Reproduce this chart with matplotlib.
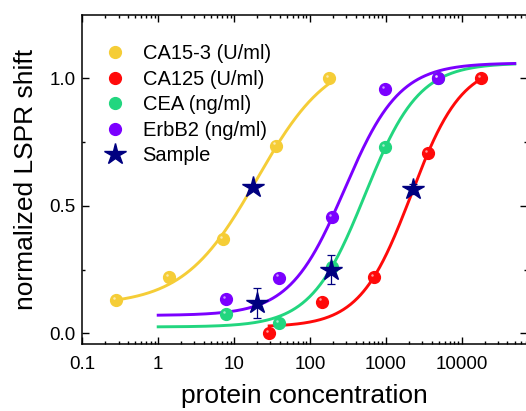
import numpy as np
import matplotlib
matplotlib.use("Agg")
import matplotlib.pyplot as plt
from matplotlib.lines import Line2D
from matplotlib.ticker import LogLocator, AutoMinorLocator, FixedLocator, FixedFormatter, NullFormatter
from matplotlib.transforms import offset_copy

plt.rcParams["font.family"] = ["Liberation Sans", "DejaVu Sans"]

# calibration points per marker
ca153_x = [0.28, 1.4, 7.1, 35.7, 177]
ca153_y = [0.13, 0.22, 0.37, 0.736, 1.0]
ca125_x = [29, 143, 708, 3614, 18000]
ca125_y = [0.0, 0.124, 0.22, 0.706, 1.0]
cea_x = [7.8, 39.5, 194, 980, 4940]
cea_y = [0.076, 0.04, 0.26, 0.73, 1.0]
erbb2_x = [7.8, 39.5, 198, 980, 4940]
erbb2_y = [0.135, 0.218, 0.457, 0.957, 1.0]

# sample readings with error bars
sample_x = [17.9, 20.2, 190, 2270]
sample_y = [0.572, 0.118, 0.25, 0.566]
sample_err = [0.01, 0.058, 0.057, 0.02]

# logistic fits: bottom, top, x0, hill, fit range
ca153_fit = [0.11, 1.10, 20.0, 0.90, 0.28, 177]
ca125_fit = [0.025, 1.06, 2150, 1.29, 29, 18000]
cea_fit = [0.025, 1.06, 530, 1.22, 1, 50000]
erbb2_fit = [0.07, 1.06, 286, 1.20, 1, 50000]

labels = ["CA15-3 (U/ml)", "CA125 (U/ml)", "CEA (ng/ml)", "ErbB2 (ng/ml)"]
colors = ["#F5CD37", "#FF0A0A", "#22D67F", "#7B00FF"]
star_color = "#000080"


def logistic(x, bottom, top, x0, p):
    return top + (bottom - top) / (1 + (x / x0) ** p)


fig = plt.figure(figsize=(5.26, 4.11), dpi=100)
ax = fig.add_axes([0.1565, 0.1623, 0.845, 0.8012])

series = [(ca153_x, ca153_y, ca153_fit), (ca125_x, ca125_y, ca125_fit),
          (cea_x, cea_y, cea_fit), (erbb2_x, erbb2_y, erbb2_fit)]

# small white glint up and left of each ball
hl = offset_copy(ax.transData, fig=fig, x=-1.6, y=1.6, units="points")
handles = []
for (xs, ys, fit), col in zip(series, colors):
    b, t, x0, p, lo, hi = fit
    xx = np.logspace(np.log10(lo), np.log10(hi), 300)
    ax.plot(xx, logistic(xx, b, t, x0, p), color=col, lw=2.1, zorder=2)
    ax.plot(xs, ys, "o", ms=8.5, color=col, mec=col, zorder=3)
    ax.plot(xs, ys, "o", ms=1.8, color="white", mec="none", alpha=0.6,
            transform=hl, zorder=4)
    handles.append(Line2D([], [], ls="none", marker="o", ms=8.5, color=col))

ax.errorbar(sample_x, sample_y, yerr=sample_err, fmt="none", ecolor=star_color,
            elinewidth=0.9, capsize=3, capthick=0.9, zorder=5)
ax.plot(sample_x, sample_y, "*", ms=16, color=star_color, mec=star_color, zorder=6)
handles.append(Line2D([], [], ls="none", marker="*", ms=16, color=star_color))

ax.legend(handles, labels + ["Sample"],
          loc="upper left", bbox_to_anchor=(0.02, 0.935), frameon=False,
          fontsize=14.5, handlelength=1.6, handletextpad=0.55, labelspacing=0.32,
          borderaxespad=0)

ax.set_xscale("log")
ax.set_xlim(0.1, 72000)
ax.set_ylim(-0.043, 1.248)

ax.xaxis.set_major_locator(FixedLocator([0.1, 1, 10, 100, 1000, 10000]))
ax.xaxis.set_major_formatter(FixedFormatter(["0.1", "1", "10", "100", "1000", "10000"]))
ax.xaxis.set_minor_locator(LogLocator(base=10, subs=np.arange(2, 10), numticks=20))
ax.xaxis.set_minor_formatter(NullFormatter())
ax.set_yticks([0, 0.5, 1.0])
ax.set_yticklabels(["0.0", "0.5", "1.0"])
ax.yaxis.set_minor_locator(AutoMinorLocator(2))

ax.tick_params(which="both", direction="in", top=True, right=True, width=1.0,
               labelsize=13.5)
ax.tick_params(which="major", length=5)
ax.tick_params(which="minor", length=2.5)
ax.tick_params(axis="x", pad=8.5)
ax.tick_params(axis="y", pad=5)
for s in ax.spines.values():
    s.set_linewidth(1.1)

ax.set_xlabel("protein concentration", fontsize=19, labelpad=8)
ax.set_ylabel("normalized LSPR shift", fontsize=19, labelpad=8)

fig.savefig("out.png", dpi=100)
